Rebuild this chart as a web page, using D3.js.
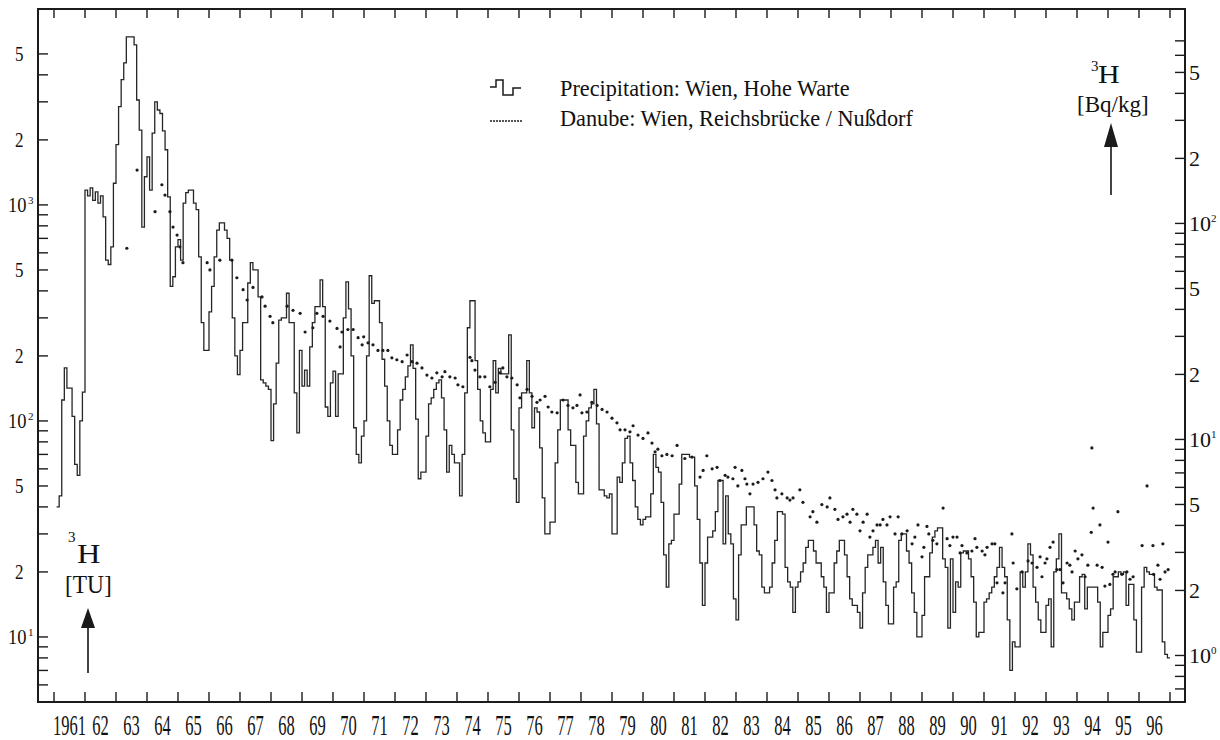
<!DOCTYPE html>
<html><head><meta charset="utf-8">
<script src="https://cdn.jsdelivr.net/npm/d3@7"></script>
<style>
html,body{margin:0;padding:0;background:#fff;}
svg{display:block;}
text{font-family:"Liberation Serif","Times New Roman",serif;fill:#111;}
</style>
</head><body>
<svg id="c" width="1220" height="740"></svg>
<script>
// ---------------- DATA ----------------
// Precipitation Wien, Hohe Warte: monthly 3H [TU], from Feb 1961 to Dec 1996
const precipStart = 1961 + 1/12;
const precip1961 = [40,45,125,176,142,142,105,63,56,100,136];
const precip1962_1970 = [
 1170,1100,1200,1050,1150,1020,1100,880,555,530,640,1260,
 1900,2850,3800,4540,6000,6000,6000,5500,3060,2220,790,1350,
 1670,1170,2150,3000,2750,2650,2200,1800,1090,420,465,640,
 690,555,1020,1140,1170,1170,1020,950,575,285,212,212,
 320,420,575,765,825,825,765,700,555,300,200,164,
 212,285,285,435,540,500,500,375,155,150,145,140,
 81,120,185,293,300,300,390,285,285,135,88,212,
 145,172,145,220,285,338,338,450,338,116,105,150,
 170,105,165,165,300,440,330,200,93,70,64,85];
const precip1971_1980 = [
 100,200,470,350,360,360,285,193,145,100,77,70,
 70,91,125,140,160,180,225,175,102,54,58,58,
 85,120,128,140,150,155,128,91,58,77,70,64,
 64,45,70,135,270,360,360,190,140,100,88,80,
 80,140,190,135,175,165,165,165,250,91,54,42,
 115,135,135,190,135,93,115,110,75,44,30,30,
 34,34,64,91,125,125,125,91,77,77,52,46,
 46,85,100,115,120,140,97,48,48,45,44,46,
 30,30,55,52,64,83,85,64,53,40,35,33,
 35,36,36,46,70,61,58,42,24,17,27,28];
const precip1981_1990 = [
 37,37,51,70,70,70,68,68,50,35,22,14,
 22,29,29,31,38,53,53,27,45,30,27,15,
 12,24,33,33,40,40,40,33,25,24,17,16,
 16,17,22,28,38,38,37,21,18,17,13,17,
 18,20,22,26,28,28,25,22,22,19,17,13,
 16,16,22,25,28,28,24,19,15,14,14,13,
 11,16,21,24,24,26,28,22,26,18,14,11.5,
 11.5,17,18,28,30,30,25,22,16,13,10,10,
 12.6,19,19,24.5,29,31,32,32,23,21,11,23,
 13,18,17,24.5,25,25,23,19,14.5,10,10.5,10.5];
const precip1991_1996 = [
 14.5,15,16,17,19,21,26,21,19,12,7,9.5,
 9,9,20,17,20,27,24,17,14.5,12,10.5,10.5,
 14,15,9,20,23,30,16,16,15,13.5,12,14.5,
 14.5,19,19.5,13.5,17,17,17,17,14.5,9,10.5,10.5,
 12.6,13.5,19,19,20,19.5,20,14,17.5,17.5,12,8.5,
 8.5,17,21,20,19.5,19.5,17,16.5,16.5,9.5,8.3,8];

// Danube: Wien, Reichsbruecke / Nussdorf  [decimal year, TU]
const danube = [
 [1963.35,630],[1963.68,1450],[1964.26,930],[1964.48,1240],[1964.58,1110],[1964.74,930],
 [1964.84,790],[1964.97,725],[1965.06,640],[1965.16,540],[1965.94,540],[1966.03,500],
 [1966.35,555],[1966.74,555],[1966.90,460],[1967.10,405],[1967.23,363],[1967.42,415],
 [1967.71,375],[1967.81,340],[1967.97,305],[1968.06,285],[1968.52,340],[1968.71,325],
 [1968.94,315],[1969.10,258],[1969.35,270],[1969.48,315],[1969.68,305],[1969.90,290],
 [1970.13,268],[1970.23,220],[1970.29,258],[1970.48,265],[1970.65,265],[1970.81,243],
 [1970.94,225],[1970.99,245],[1971.13,230],[1971.29,225],[1971.45,212],[1971.61,212],
 [1971.77,212],[1971.90,196],[1972.06,192],[1972.23,188],[1972.39,202],[1972.55,188],
 [1972.71,185],[1972.87,176],[1973.03,163],[1973.19,158],[1973.35,167],[1973.52,160],
 [1973.61,169],[1973.77,160],[1973.94,158],[1974.03,147],[1974.19,144],[1974.42,197],
 [1974.48,190],[1974.58,172],[1974.74,160],[1974.90,160],[1975.06,144],[1975.23,151],
 [1975.39,167],[1975.48,176],[1975.61,160],[1975.77,158],[1975.94,147],[1976.03,128],
 [1976.26,140],[1976.42,130],[1976.58,122],[1976.68,125],[1976.84,130],[1976.94,116],
 [1977.06,110],[1977.23,109],[1977.42,125],[1977.58,118],[1977.74,115],[1977.87,118],
 [1977.97,132],[1978.03,109],[1978.19,110],[1978.35,122],[1978.52,118],[1978.68,113],
 [1978.84,110],[1979.00,103],[1979.16,98],[1979.26,91],[1979.42,91],[1979.58,89],
 [1979.68,95],[1979.84,86],[1980.00,83],[1980.16,88],[1980.29,79],[1980.39,72],
 [1980.48,74],[1980.61,69],[1980.77,70],[1980.94,69],[1981.10,77],[1981.35,67],
 [1981.58,68],[1981.84,55],[1981.94,59],[1982.06,69],[1982.23,60],[1982.39,61],
 [1982.48,53],[1982.65,56],[1982.74,55],[1982.90,54],[1982.97,61],[1983.06,50],
 [1983.19,59],[1983.29,54],[1983.35,51],[1983.45,46],[1983.55,51],[1983.71,52],
 [1983.87,54],[1984.03,58],[1984.16,53],[1984.26,48],[1984.32,44],[1984.48,46],
 [1984.65,44],[1984.74,43],[1984.84,44],[1985.06,48],[1985.16,42],[1985.39,36],
 [1985.48,38],[1985.61,34],[1985.77,41],[1985.94,40],[1986.03,44],[1986.19,39],
 [1986.29,35],[1986.45,36],[1986.58,37],[1986.68,34],[1986.77,39],[1986.90,37],
 [1987.00,31],[1987.10,34],[1987.23,37],[1987.32,29],[1987.42,31],[1987.55,33],
 [1987.65,33],[1987.74,35],[1987.87,33],[1987.97,36],[1988.13,30],[1988.23,36],
 [1988.35,30],[1988.52,31],[1988.68,27],[1988.77,29],[1988.87,33],[1989.00,23.5],
 [1989.06,26],[1989.16,32.5],[1989.22,30],[1989.35,28],[1989.48,27],[1989.68,39.5],
 [1989.81,28.5],[1989.90,26.5],[1990.00,29],[1990.13,29],[1990.23,24.5],[1990.29,26.5],
 [1990.45,24.5],[1990.61,25],[1990.71,28.5],[1990.77,26],[1990.94,25],[1991.03,24],
 [1991.10,26],[1991.26,27],[1991.35,27],[1991.42,17.8],[1991.61,16],[1991.68,17.8],
 [1991.90,30],[1991.94,22],[1992.06,16.7],[1992.23,20],[1992.42,22.5],[1992.55,22],
 [1992.71,21],[1992.81,23.5],[1992.87,19],[1992.97,22],[1993.03,23],[1993.13,26],
 [1993.23,27.5],[1993.35,20.5],[1993.45,20.5],[1993.55,17.8],[1993.68,22],[1993.77,21.5],
 [1993.84,20],[1993.94,25],[1994.03,23],[1994.16,24],[1994.26,19],[1994.35,21.5],
 [1994.46,30.5],[1994.48,75],[1994.52,39.5],[1994.65,21.5],[1994.74,33],[1994.81,21],
 [1994.90,17.2],[1995.00,27.5],[1995.06,17.5],[1995.16,19.5],[1995.23,20],[1995.32,38],
 [1995.45,19.5],[1995.61,20],[1995.71,18.5],[1995.81,19],[1996.10,26.5],[1996.26,50],
 [1996.45,26.5],[1996.47,19.5],[1996.61,21.5],[1996.68,18.5],[1996.77,27],[1996.84,20],
 [1996.94,20.5]];

const yearTicks = d3.range(1961, 1998);
const yearLabels = ["1961","62","63","64","65","66","67","68","69","70","71","72","73","74","75","76","77","78","79","80","81","82","83","84","85","86","87","88","89","90","91","92","93","94","95","96"];
const leftLabelValues = [5000,2000,1000,500,200,100,50,20,10];
const leftLabelMain = ["5","2","10","5","2","10","5","2","10"];
const leftLabelSup  = ["","","3","","","2","","","1"];
const rightLabelValues = [500,200,100,50,20,10,5,2,1];
const rightLabelMain = ["5","2","10","5","2","10","5","2","10"];
const rightLabelSup  = ["","","2","","","1","","","0"];
const legendLabels = ["Precipitation: Wien, Hohe Warte","Danube: Wien, Reichsbrücke / Nußdorf"];

// ---------------- DRAW ----------------
const svg = d3.select("#c");
svg.append("rect").attr("width",1220).attr("height",740).attr("fill","#fff");

const L = 38, R = 1185, T = 9, B = 702;
const x = d3.scaleLinear().domain([1960.484, 1997.484]).range([L, R]);
const y = d3.scaleLog().domain([5, 8070]).range([B, T]);
const yR = d3.scaleLog().domain([0.609, 983]).range([B, T]);

const ink = "#1b1b1b";

// precipitation step line
const monthly = [].concat(precip1961, precip1962_1970, precip1971_1980, precip1981_1990, precip1991_1996);
const pts = monthly.map((v,i) => ({t: precipStart + i/12, v}));
pts.push({t: pts[pts.length-1].t + 1/12, v: pts[pts.length-1].v});
svg.append("path")
  .attr("d", d3.line().x(d=>x(d.t)).y(d=>y(d.v)).curve(d3.curveStepAfter)(pts))
  .attr("fill","none").attr("stroke","#262626").attr("stroke-width",1.3);

// danube dots
svg.append("g").selectAll("circle").data(danube).join("circle")
  .attr("cx",d=>x(d[0])).attr("cy",d=>y(d[1])).attr("r",1.6).attr("fill",ink);

// frame
svg.append("rect").attr("x",L).attr("y",T).attr("width",R-L).attr("height",B-T)
  .attr("fill","none").attr("stroke",ink).attr("stroke-width",2);

// year ticks (bottom & top, inward)
const gt = svg.append("g").attr("stroke",ink).attr("stroke-width",1.4);
yearTicks.forEach(yr => {
  gt.append("line").attr("x1",x(yr)).attr("x2",x(yr)).attr("y1",B).attr("y2",B-10);
  gt.append("line").attr("x1",x(yr)).attr("x2",x(yr)).attr("y1",T).attr("y2",T+9);
});
// year labels (tall, narrow serif digits)
yearLabels.forEach((lab,i) => {
  svg.append("text")
    .attr("transform", `translate(${x(1961+i+0.5)},735) scale(0.55,1)`)
    .attr("text-anchor","middle").attr("font-size",30)
    .text(lab);
});

// left log ticks
const leftTicks = [];
[1,10,100,1000].forEach(d => d3.range(1,10).forEach(m => { const v=m*d; if (v>=6 && v<=5000) leftTicks.push(v); }));
leftTicks.forEach(v => {
  gt.append("line").attr("x1",L).attr("x2",L+10).attr("y1",y(v)).attr("y2",y(v));
});
// right log ticks
const rightTicks = [];
[0.1,1,10,100].forEach(d => d3.range(1,10).forEach(m => { const v=+(m*d).toFixed(2); if (v>=0.65 && v<=700) rightTicks.push(v); }));
rightTicks.forEach(v => {
  gt.append("line").attr("x1",R).attr("x2",R-10).attr("y1",yR(v)).attr("y2",yR(v));
});

// left labels
leftLabelValues.forEach((v,i) => {
  const yy = y(v);
  if (leftLabelSup[i]) {
    svg.append("text").attr("transform",`translate(8,${yy+7.5}) scale(0.88,1)`).attr("font-size",21)
      .text(leftLabelMain[i]);
    svg.append("text").attr("x",28).attr("y",yy-1).attr("font-size",11).text(leftLabelSup[i]);
  } else {
    svg.append("text").attr("transform",`translate(23.5,${yy+7}) scale(0.85,1)`).attr("font-size",20)
      .attr("text-anchor","end").text(leftLabelMain[i]);
  }
});
// right labels
rightLabelValues.forEach((v,i) => {
  const yy = yR(v);
  svg.append("text").attr("x",1189).attr("y",yy+8).attr("font-size",22).text(rightLabelMain[i]);
  if (rightLabelSup[i]) {
    svg.append("text").attr("x",1211).attr("y",yy-1).attr("font-size",11).text(rightLabelSup[i]);
  }
});

// axis titles
function title(supX, supY, hX, hY, hSize, hScale, unit, uX, uY, uSize, uScale) {
  svg.append("text").attr("x",supX).attr("y",supY).attr("font-size",15).text("3");
  svg.append("text").attr("transform",`translate(${hX},${hY}) scale(${hScale},1)`)
    .attr("font-size",hSize).text("H");
  svg.append("text").attr("transform",`translate(${uX},${uY}) scale(${uScale},1)`)
    .attr("font-size",uSize).text(unit);
}
title(68, 542, 77, 563, 27, 1.2, "[TU]", 65, 593, 26, 0.9);
title(1091, 71, 1098, 83, 25, 1.2, "[Bq/kg]", 1077, 112, 24, 0.96);

// arrows
function arrow(ax, tip, headBot, bot) {
  svg.append("line").attr("x1",ax).attr("x2",ax).attr("y1",headBot-2).attr("y2",bot)
    .attr("stroke","#444").attr("stroke-width",2);
  svg.append("path").attr("d",`M${ax},${tip} L${ax-7},${headBot} L${ax+7},${headBot} Z`).attr("fill",ink);
}
arrow(88, 608, 628, 673);
arrow(1111, 123, 147, 195);

// legend
svg.append("path").attr("d","M490,87 H496 V80 H503 V95 H513 V88 H521")
  .attr("fill","none").attr("stroke",ink).attr("stroke-width",1.5);
svg.append("g").selectAll("circle").data(d3.range(0,11)).join("circle")
  .attr("cx",d=>491+d*3).attr("cy",121).attr("r",1).attr("fill",ink);
svg.append("text").attr("transform","translate(560,96) scale(0.99,1)").attr("font-size",22.5)
  .text(legendLabels[0]);
svg.append("text").attr("transform","translate(560,126) scale(0.99,1)").attr("font-size",22.5)
  .text(legendLabels[1]);
</script>
</body></html>
